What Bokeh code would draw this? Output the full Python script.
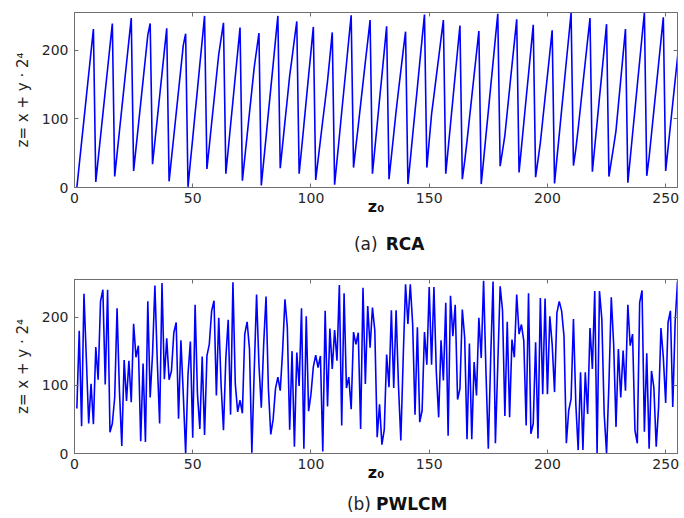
from bokeh.plotting import figure
from bokeh.models import Range1d, LinearAxis, Label, FixedTicker
from bokeh.layouts import column
from bokeh.embed import file_html
from bokeh.resources import INLINE

# sample index z0 (MATLAB-style 1..256)
z0 = list(range(1, 257))

# (a) RCA output values
rca_values = [
    0, 33, 66, 99, 132, 165, 198, 231,
    8, 41, 74, 107, 140, 173, 206, 239,
    16, 49, 82, 115, 148, 181, 214, 247,
    24, 57, 90, 123, 156, 189, 222, 239,
    34, 67, 100, 133, 166, 199, 232,
    9, 42, 75, 108, 141, 174, 207, 224,
    1, 37, 72, 108, 143, 179, 214, 250,
    27, 60, 94, 127, 161, 194, 217, 240,
    20, 55, 91, 126, 162, 197, 233,
    10, 43, 76, 109, 142, 175, 200, 225,
    3, 38, 73, 109, 144, 179, 215, 250,
    28, 62, 96, 129, 163, 189, 216, 242,
    20, 55, 91, 127, 163, 198, 234,
    11, 40, 69, 98, 126, 155, 190, 226,
    4, 39, 74, 110, 145, 180, 216, 251,
    29, 60, 90, 121, 152, 183, 213, 244,
    20, 56, 92, 128, 163, 199, 235,
    12, 45, 78, 111, 141, 170, 199, 227,
    5, 40, 76, 111, 146, 182, 217, 252,
    29, 68, 107, 134, 162, 189, 217, 244,
    20, 56, 92, 128, 164, 200, 236,
    12, 38, 68, 100, 132, 164, 196, 228,
    5, 40, 76, 111, 147, 182, 218, 253,
    31, 53, 76, 110, 144, 178, 211, 245,
    22, 58, 94, 130, 165, 201, 237,
    15, 40, 65, 98, 131, 163, 196, 229,
    6, 42, 77, 113, 148, 184, 219, 255,
    32, 56, 86, 118, 151, 183, 215, 247,
    23, 59, 95, 131, 166, 202, 238,
    16, 38, 60, 83, 120, 157, 194, 231,
    7, 42, 78, 113, 149, 184, 220, 255,
    17, 44, 78, 112, 146, 180, 214, 248,
    24, 57, 90, 123, 156, 189, 222,
]

# (b) PWLCM output values
pwlcm_values = [
    66, 180, 40, 234, 140, 44, 102, 43, 156, 108,
    223, 240, 101, 240, 31, 44, 82, 213, 92, 11,
    137, 77, 136, 75, 190, 141, 158, 18, 132, 17,
    223, 82, 146, 246, 136, 44, 250, 109, 169, 108,
    121, 177, 192, 51, 166, 87, 0, 116, 164, 23,
    218, 87, 36, 142, 27, 143, 160, 209, 224, 85,
    199, 100, 34, 140, 196, 57, 251, 102, 61, 78,
    59, 175, 193, 153, 1, 120, 233, 130, 67, 160,
    230, 95, 28, 50, 95, 112, 92, 150, 226, 185,
    35, 150, 10, 148, 99, 213, 7, 201, 62, 87,
    127, 144, 126, 143, 3, 209, 69, 183, 124, 181,
    136, 247, 41, 235, 96, 112, 65, 178, 160, 177,
    36, 243, 102, 216, 155, 214, 180, 24, 72, 13,
    35, 145, 97, 210, 96, 210, 100, 19, 140, 248,
    190, 248, 190, 57, 185, 46, 63, 178, 130, 244,
    130, 244, 120, 53, 166, 107, 221, 26, 231, 172,
    218, 79, 95, 211, 170, 21, 161, 21, 134, 85,
    199, 140, 253, 120, 7, 140, 252, 15, 130, 245,
    210, 55, 193, 53, 167, 141, 233, 175, 189, 165,
    41, 235, 29, 44, 163, 22, 228, 87, 227, 87,
    201, 160, 90, 206, 223, 209, 172, 15, 63, 80,
    197, 73, 5, 119, 5, 119, 58, 184, 124, 238,
    0, 238, 197, 58, 0, 102, 229, 160, 39, 153,
    82, 151, 92, 218, 158, 175, 34, 15, 221, 239,
    32, 147, 7, 121, 97, 10, 68, 184, 141, 74,
    192, 209, 68, 192, 252, 255,
]

x_ticks = [0, 50, 100, 150, 200, 250]
y_ticks = [0, 100, 200]
y_label = "z= x + y · 2⁴"
x_label = "z₀"

AX = "#6e6e6e"
TXT = "#262626"
W = 684


def make_panel(values, height, top, bottom):
    p = figure(width=W, height=height, output_backend="svg", toolbar_location=None,
               x_range=Range1d(0, 255), y_range=Range1d(0, 255),
               min_border_left=74, min_border_right=7,
               min_border_top=top, min_border_bottom=bottom)
    p.line(z0, values, color="#0000ff", line_width=1.6)
    p.grid.visible = False
    p.outline_line_color = AX
    p.outline_line_width = 1

    for ax, ticks in ((p.xaxis[0], x_ticks), (p.yaxis[0], y_ticks)):
        ax.ticker = FixedTicker(ticks=ticks)
        ax.major_tick_in = 4
        ax.major_tick_out = 0
        ax.minor_tick_in = 0
        ax.minor_tick_out = 0
        ax.axis_line_color = AX
        ax.major_tick_line_color = AX
        ax.major_label_text_font = "DejaVu Sans"
        ax.major_label_text_font_size = "14px"
        ax.major_label_text_color = TXT

    p.yaxis.axis_label = y_label
    p.yaxis.axis_label_text_font = "DejaVu Sans"
    p.yaxis.axis_label_text_font_size = "15px"
    p.yaxis.axis_label_text_font_style = "normal"
    p.yaxis.axis_label_text_color = TXT
    p.yaxis.major_label_standoff = 6
    p.yaxis.axis_label_standoff = 7

    p.xaxis.axis_label = x_label
    p.xaxis.axis_label_text_font = "DejaVu Sans"
    p.xaxis.axis_label_text_font_size = "16px"
    p.xaxis.axis_label_text_font_style = "bold"
    p.xaxis.axis_label_text_color = "#111111"
    p.xaxis.major_label_standoff = 5
    p.xaxis.axis_label_standoff = -9

    for loc, ticks in (("right", y_ticks), ("above", x_ticks)):
        ax = LinearAxis(ticker=FixedTicker(ticks=ticks), major_label_text_font_size="1px",
                        major_label_text_color=None,
                        major_tick_in=4, major_tick_out=0, minor_tick_in=0, minor_tick_out=0,
                        axis_line_color=AX, major_tick_line_color=AX, major_label_standoff=0)
        p.add_layout(ax, loc)
    return p


def make_caption(height, cy, tag, tag_x, name, name_x):
    c = figure(width=W, height=height, output_backend="svg", toolbar_location=None,
               x_range=Range1d(0, W), y_range=Range1d(0, height),
               x_axis_location=None, y_axis_location=None, min_border=0)
    c.grid.visible = False
    c.outline_line_color = None
    c.add_layout(Label(x=tag_x, y=cy, text=tag, text_font="DejaVu Sans",
                       text_font_size="17px", text_color="#222222",
                       text_baseline="middle", text_align="left"))
    c.add_layout(Label(x=name_x, y=cy, text=name, text_font="DejaVu Sans",
                       text_font_size="17px", text_font_style="bold", text_color="#111111",
                       text_baseline="middle", text_align="left"))
    return c


p1 = make_panel(rca_values, 222, 12, 35)
c1 = make_caption(38, 17, "(a)", 317, "RCA", 353)
p2 = make_panel(pwlcm_values, 228, 19, 35)
c2 = make_caption(30, 15, "(b)", 309, "PWLCM", 342)

layout = column(p1, c1, p2, c2, spacing=0)
open("out.html", "w").write(file_html(layout, INLINE))
